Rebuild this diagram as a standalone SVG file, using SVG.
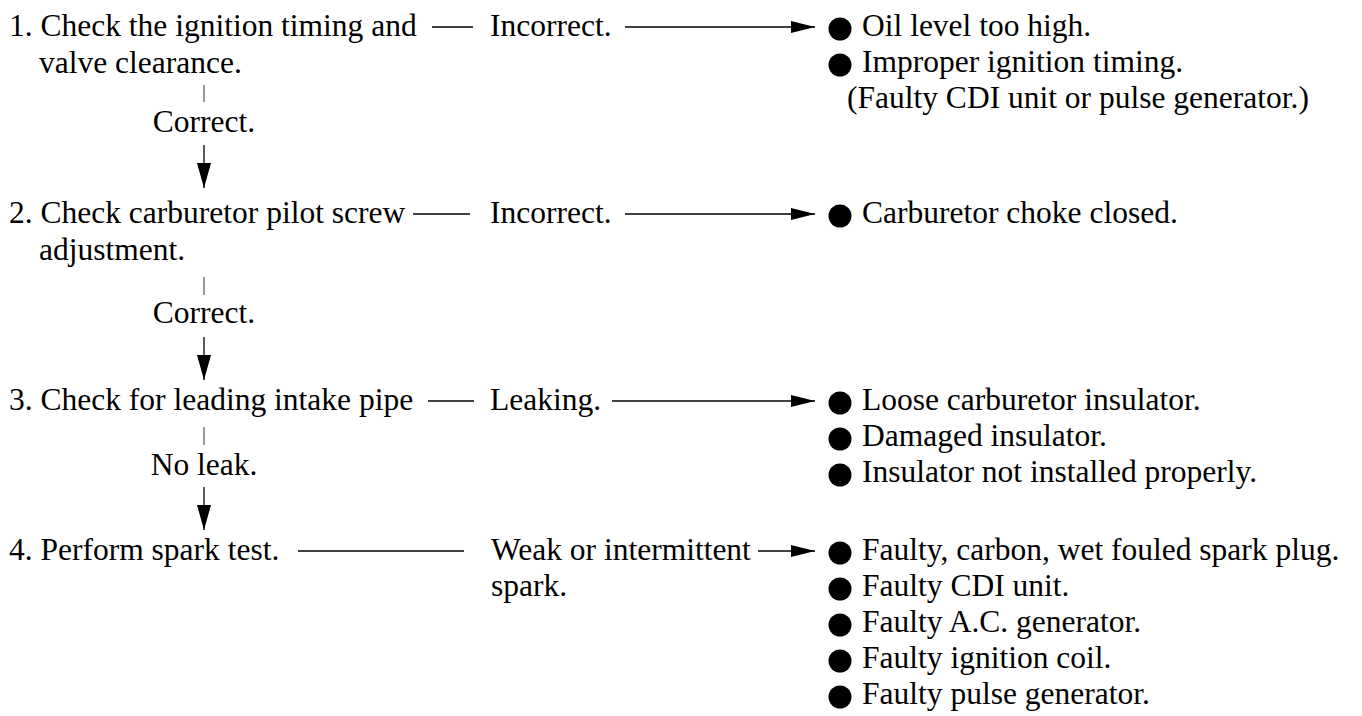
<svg xmlns="http://www.w3.org/2000/svg" width="1362" height="716" viewBox="0 0 1362 716">
<style>
text{font-family:"Liberation Serif","Times New Roman",serif;font-size:31.5px;fill:#000}
.mid{text-anchor:middle}
.ln{stroke:#000;stroke-width:1.3;fill:none}
.tick{stroke:#444;stroke-width:1.1;fill:none}
.dot{fill:#000}
</style>
<defs>
<marker id="ah" markerUnits="userSpaceOnUse" markerWidth="25" markerHeight="14" refX="24" refY="6.5" orient="auto">
<path d="M0,0.5 L24,6.5 L0,12.5 Z" fill="#000"/>
</marker>
<marker id="av" markerUnits="userSpaceOnUse" markerWidth="26" markerHeight="16" refX="25" refY="7.5" orient="auto">
<path d="M0,0.5 L25,7.5 L0,14.5 Z" fill="#000"/>
</marker>
</defs>
<rect width="1362" height="716" fill="#fff"/>

<g id="connectors">
<line class="ln" x1="432" y1="27" x2="473" y2="27"/>
<line class="ln" x1="625" y1="27" x2="815" y2="27" marker-end="url(#ah)"/>
<line class="tick" x1="204" y1="85" x2="204" y2="102"/>
<line class="ln" x1="204" y1="145" x2="204" y2="188" marker-end="url(#av)"/>

<line class="ln" x1="413" y1="214" x2="470" y2="214"/>
<line class="ln" x1="625" y1="214" x2="815" y2="214" marker-end="url(#ah)"/>
<line class="tick" x1="204" y1="277" x2="204" y2="295"/>
<line class="ln" x1="204" y1="337" x2="204" y2="380" marker-end="url(#av)"/>

<line class="ln" x1="428" y1="401" x2="474" y2="401"/>
<line class="ln" x1="612" y1="401" x2="815" y2="401" marker-end="url(#ah)"/>
<line class="tick" x1="204" y1="427" x2="204" y2="445"/>
<line class="ln" x1="204" y1="487" x2="204" y2="530" marker-end="url(#av)"/>

<line class="ln" x1="298" y1="551" x2="464" y2="551"/>
<line class="ln" x1="758" y1="551" x2="815" y2="551" marker-end="url(#ah)"/>
</g>

<g id="step1">
<text x="9" y="36">1. Check the ignition timing and</text>
<text x="39" y="73">valve clearance.</text>
</g>
<g id="correct1"><text class="mid" x="204" y="132">Correct.</text></g>
<g id="incorrect1"><text x="490" y="36">Incorrect.</text></g>
<g id="result1">
<circle class="dot" cx="840" cy="29" r="11.5"/>
<text x="862" y="36">Oil level too high.</text>
<circle class="dot" cx="840" cy="65" r="11.5"/>
<text x="862" y="72">Improper ignition timing.</text>
<text x="847" y="108">(Faulty CDI unit or pulse generator.)</text>
</g>

<g id="step2">
<text x="9" y="223">2. Check carburetor pilot screw</text>
<text x="39" y="260">adjustment.</text>
</g>
<g id="correct2"><text class="mid" x="204" y="323">Correct.</text></g>
<g id="incorrect2"><text x="490" y="223">Incorrect.</text></g>
<g id="result2">
<circle class="dot" cx="840" cy="216" r="11.5"/>
<text x="862" y="223">Carburetor choke closed.</text>
</g>

<g id="step3">
<text x="9" y="410">3. Check for leading intake pipe</text>
</g>
<g id="noleak"><text class="mid" x="204" y="475">No leak.</text></g>
<g id="leaking"><text x="490" y="410">Leaking.</text></g>
<g id="result3">
<circle class="dot" cx="840" cy="403" r="11.5"/>
<text x="862" y="410">Loose carburetor insulator.</text>
<circle class="dot" cx="840" cy="439" r="11.5"/>
<text x="862" y="446">Damaged insulator.</text>
<circle class="dot" cx="840" cy="475" r="11.5"/>
<text x="862" y="482">Insulator not installed properly.</text>
</g>

<g id="step4">
<text x="9" y="560">4. Perform spark test.</text>
</g>
<g id="weak">
<text x="491" y="560">Weak or intermittent</text>
<text x="491" y="596">spark.</text>
</g>
<g id="result4">
<circle class="dot" cx="840" cy="553" r="11.5"/>
<text x="862" y="560">Faulty, carbon, wet fouled spark plug.</text>
<circle class="dot" cx="840" cy="589" r="11.5"/>
<text x="862" y="596">Faulty CDI unit.</text>
<circle class="dot" cx="840" cy="625" r="11.5"/>
<text x="862" y="632">Faulty A.C. generator.</text>
<circle class="dot" cx="840" cy="661" r="11.5"/>
<text x="862" y="668">Faulty ignition coil.</text>
<circle class="dot" cx="840" cy="697" r="11.5"/>
<text x="862" y="704">Faulty pulse generator.</text>
</g>
</svg>
